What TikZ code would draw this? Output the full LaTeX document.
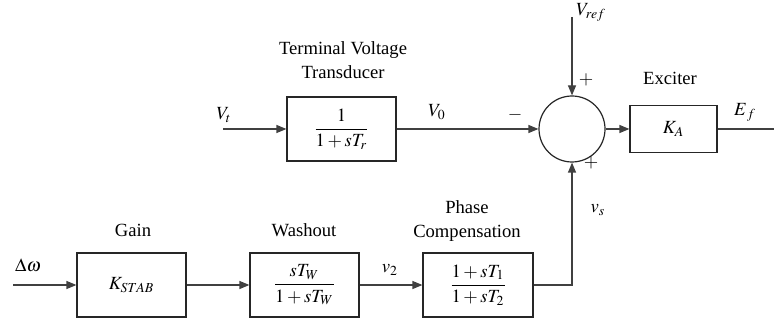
\documentclass[tikz,border=0pt]{standalone}
\usepackage{amsmath}
\usepackage{mathptmx}
\usepackage{fontspec}
\setmainfont{Liberation Serif}
\usetikzlibrary{arrows.meta,positioning,calc}

\begin{document}
\begin{tikzpicture}[
  x=0.5pt, y=0.5pt,
  font=\fontsize{9.3}{12}\selectfont,
  >={Triangle[length=5pt,width=4pt]},
  blockbox/.style={
    draw=black!85,
    fill=white,
    line width=0.6pt,
    minimum width=54.5pt,
    minimum height=32pt,
    inner sep=2pt,
    align=center
  },
  sumcircle/.style={
    circle,
    draw=black!85,
    line width=0.6pt,
    minimum size=33pt,
    inner sep=0pt
  },
  signalarrow/.style={
    ->,
    line width=0.6pt,
    draw=black!75
  },
  signalline/.style={
    line width=0.6pt,
    draw=black!75
  },
  blocklabel/.style={
    align=center,
    inner sep=0pt
  },
  siglabel/.style={
    inner sep=0pt
  }
]
  \useasboundingbox (0,0) rectangle (774,321);

  % =========================================================================
  % TOP ROW: TRANSDUCER, SUMMING POINT, EXCITER
  % =========================================================================
  \node[blocklabel] (trans_title) at (343,261) {Terminal Voltage\\Transducer};
  \node[blockbox] (trans) at (341.5,192) {$\dfrac{1}{1+sT_r}$};

  \node[sumcircle] (sum) at (572,192) {};

  \node[blocklabel] (exciter_title) at (670,243) {Exciter};
  \node[blockbox, minimum width=43.5pt, minimum height=23.5pt] (exciter) at (673.5,192) {$K_A$};

  \coordinate (vt_in) at (223,192);
  \coordinate (vref_in) at (572,304);
  \coordinate (ef_out) at (774,192);

  \draw[signalarrow] (vt_in) -- (trans.west);
  \draw[signalarrow] (trans.east) -- (sum.west);
  \draw[signalarrow] (vref_in) -- (sum.north);
  \draw[signalarrow] (sum.east) -- (exciter.west);
  \draw[signalline] (exciter.east) -- (ef_out);

  % Signal names and signs
  \node[siglabel] (vt_lbl) at (224,206) {$V_t$};
  \node[siglabel] (v0_lbl) at (437,209) {$V_0$};
  \node[siglabel, anchor=west] (vref_lbl) at (576,309) {$V_{ref}$};
  \node[siglabel] (ef_lbl) at (745,209) {$E_{\,f}$};
  \node[siglabel] (minus_lbl) at (515,206) {$-$};
  \node[siglabel] (plus_top) at (586,241) {$+$};
  \node[siglabel] (plus_bot) at (591,158) {$+$};

  % =========================================================================
  % BOTTOM ROW: STABILIZER (GAIN, WASHOUT, PHASE COMPENSATION)
  % =========================================================================
  \node[blocklabel] (gain_title) at (133,91) {Gain};
  \node[blockbox] (gain) at (131.5,36) {$K_{STAB}$};

  \node[blocklabel] (washout_title) at (304,91) {Washout};
  \node[blockbox] (washout) at (304.5,36) {$\dfrac{sT_W}{1+sT_W}$};

  \node[blocklabel] (phase_title) at (467,100) {Phase\\Compensation};
  \node[blockbox, minimum width=55pt] (phase) at (478,36) {$\dfrac{1+sT_1}{1+sT_2}$};

  \coordinate (dw_in) at (13,36);
  \coordinate (vs_turn) at (572,36);

  \draw[signalarrow] (dw_in) -- (gain.west);
  \draw[signalarrow] (gain.east) -- (washout.west);
  \draw[signalarrow] (washout.east) -- (phase.west);
  \draw[signalarrow] (phase.east) -- (vs_turn) -- (sum.south);

  \node[siglabel] (dw_lbl) at (28,56) {$\Delta\omega$};
  \node[siglabel] (v2_lbl) at (390,51) {$v_2$};
  \node[siglabel] (vs_lbl) at (598,111) {$v_s$};

\end{tikzpicture}
\end{document}
